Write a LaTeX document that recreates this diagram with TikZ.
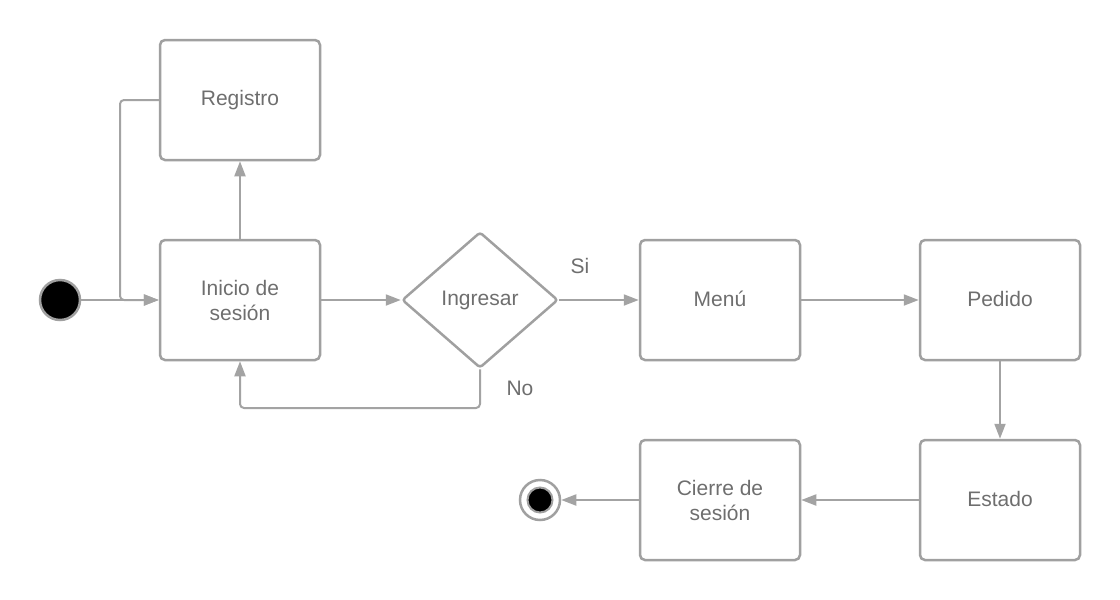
\documentclass[tikz,border=0pt]{standalone}
\usepackage{fontspec}
\setmainfont{Liberation Sans}
\usetikzlibrary{shapes.geometric,arrows.meta}
\definecolor{boxgray}{HTML}{A0A0A0}
\definecolor{linegray}{HTML}{A3A3A3}
\definecolor{txtgray}{HTML}{6E6E6E}
\tikzset{
  statebox/.style={draw=boxgray, line width=2.5pt, rounded corners=5pt, rectangle,
    minimum width=160pt, minimum height=120pt, inner sep=0pt, align=center,
    text=txtgray, font=\fontsize{21}{25}\selectfont},
  decision/.style={draw=boxgray, line width=2.5pt, rounded corners=3pt, diamond,
    minimum width=156pt, minimum height=136pt, inner sep=0pt,
    text=txtgray, font=\fontsize{21}{25}\selectfont},
  conn/.style={draw=linegray, line width=2pt, rounded corners=4pt,
    -{Triangle[length=15pt,width=11pt]}},
  lbl/.style={text=txtgray, font=\fontsize{21}{25}\selectfont},
}
\begin{document}
\begin{tikzpicture}[x=1pt,y=-1pt]
\useasboundingbox (0,0) rectangle (1120,600);
\node[circle, fill=black, draw=boxgray, line width=2.5pt, minimum size=40pt, inner sep=0pt] (start) at (60,300) {};
\node[statebox] (reg) at (240,100) {\raisebox{3pt}{Registro}};
\node[statebox] (ini) at (240,300) {Inicio de\\sesión};
\node[decision] (dia) at (480,300) {\raisebox{2pt}{Ingresar}};
\node[statebox] (menu) at (720,300) {\raisebox{3pt}{Menú}};
\node[statebox] (ped) at (1000,300) {\raisebox{3pt}{Pedido}};
\node[statebox] (est) at (1000,500) {\raisebox{3pt}{Estado}};
\node[statebox] (cie) at (720,500) {Cierre de\\sesión};
\node[circle, fill=white, draw=boxgray, line width=2.5pt, minimum size=40pt, inner sep=0pt] (endo) at (540,500) {};
\node[circle, fill=black, draw=boxgray, line width=2pt, minimum size=25pt, inner sep=0pt] (endi) at (endo.center) {};
\coordinate (l1) at (120,100);
\coordinate (l2) at (120,300);
\coordinate (n1) at (480,408);
\coordinate (n2) at (240,408);

\draw[conn] (start.east) -- (ini.west);
\draw[conn] (reg.west) -- (l1) -- (l2) -- (ini.west);
\draw[conn] (ini.north) -- (reg.south);
\draw[conn] (ini.east) -- (dia.west);
\draw[conn] (dia.east) -- (menu.west);
\draw[conn] (dia.south) -- (n1) -- (n2) -- (ini.south);
\draw[conn] (menu.east) -- (ped.west);
\draw[conn] (ped.south) -- (est.north);
\draw[conn] (est.west) -- (cie.east);
\draw[conn] (cie.west) -- (endo.east);

\node[lbl] (si) at (580,266) {Si};
\node[lbl] (no) at (520,388) {No};
\end{tikzpicture}
\end{document}
